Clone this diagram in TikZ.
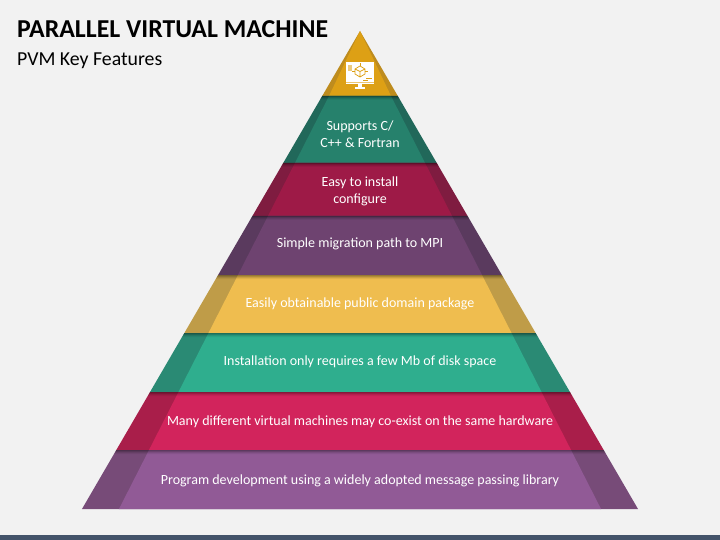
\documentclass[tikz,border=0pt]{standalone}
\usepackage{fontspec}
\setmainfont{Carlito}
\usetikzlibrary{calc}
\definecolor{pagebg}{HTML}{F2F2F2}
\definecolor{stripcol}{HTML}{44546A}
\definecolor{goldM}{HTML}{DDA015}
\definecolor{goldS}{HTML}{BE8C1E}
\definecolor{greenM}{HTML}{26816C}
\definecolor{greenS}{HTML}{21685A}
\definecolor{wineM}{HTML}{9E1A47}
\definecolor{wineS}{HTML}{7F1C40}
\definecolor{plumM}{HTML}{6E4370}
\definecolor{plumS}{HTML}{5A3A5E}
\definecolor{yellowM}{HTML}{EFBD4F}
\definecolor{yellowS}{HTML}{BF9C48}
\definecolor{tealM}{HTML}{2FAE8E}
\definecolor{tealS}{HTML}{2A8A74}
\definecolor{redM}{HTML}{D2245C}
\definecolor{redS}{HTML}{A91E4A}
\definecolor{violetM}{HTML}{915A96}
\definecolor{violetS}{HTML}{774B78}
\tikzset{
  band text/.style={text=white, font=\fontsize{14}{17}\selectfont, align=center},
}
\begin{document}
\begin{tikzpicture}[x=1pt, y=-1pt]
  \fill[pagebg] (0,0) rectangle (720,540);
  \fill[stripcol] (0,535) rectangle (720,540);

  \node [anchor=west, inner sep=0pt, font=\fontsize{25.8}{30}\selectfont\bfseries] (title) at (17,29) {PARALLEL VIRTUAL MACHINE};
  \node [anchor=west, inner sep=0pt, font=\fontsize{19.8}{23}\selectfont] (subtitle) at (17,60.5) {PVM Key Features};

  % bands, top to bottom: top edge, bottom edge, colour
  \foreach \t/\b/\c in {31/96/gold, 96/163/green, 163/216/wine, 216/275/plum,
                        275/333/yellow, 333/392/teal, 392/450/red, 450/509/violet} {
    \pgfmathsetmacro{\ot}{0.5816*(\t-31)}
    \pgfmathsetmacro{\ob}{0.5816*(\b-31)}
    \pgfmathsetmacro{\it}{0.5085*max(\t-35,0)}
    \pgfmathsetmacro{\ib}{0.5085*(\b-35)}
    \fill[\c S] (360-\ot,\t) -- (360+\ot,\t) -- (360+\ob,\b) -- (360-\ob,\b) -- cycle;
    \fill[\c M] (360-\it,\t) -- (360+\it,\t) -- (360+\ib,\b) -- (360-\ib,\b) -- cycle;
  }
  % shadow on top of each lower band
  \foreach \t in {96,163,216,275,333,392,450} {
    \foreach \k/\o in {0/0.36,1/0.22,2/0.12,3/0.05} {
      \pgfmathsetmacro{\ot}{0.5816*(\t+\k-31)}
      \pgfmathsetmacro{\ob}{0.5816*(\t+\k+1-31)}
      \fill[black, opacity=\o] (360-\ot,\t+\k) -- (360+\ot,\t+\k) -- (360+\ob,\t+\k+1) -- (360-\ob,\t+\k+1) -- cycle;
    }
  }

  \node [band text] (L1) at (360,134.5) {Supports C/\\C++ \& Fortran};
  \node [band text] (L2) at (360,191) {Easy to install\\configure};
  \node [band text] (L3) at (360,243.5) {Simple migration path to MPI};
  \node [band text] (L4) at (360,303.5) {Easily obtainable public domain package};
  \node [band text] (L5) at (360,362) {Installation only requires a few Mb of disk space};
  \node [band text] (L6) at (360,421.5) {Many different virtual machines may co-exist on the same hardware};
  \node [band text] (L7) at (360,480.5) {Program development using a widely adopted message passing library};

  % monitor icon
  \fill[white] (346,62) rectangle (374,84);
  \fill[white] (358,84) rectangle (362,87);
  \fill[white] (355,87) rectangle (365,89.5);
  \draw[goldM!60, line width=0.5pt] (346,82) -- (374,82);
  \fill[goldM!55] (348,65) rectangle (352,71);
  \draw[goldM, line width=0.7pt] (360,66) -- (365,69) -- (365,74) -- (360,77) -- (355,74) -- (355,69) -- cycle
    (355,69) -- (360,71.5) -- (365,69) (360,71.5) -- (360,77);
  \draw[goldM, line width=0.6pt] (352,71.5) -- (355,71.5) (365,71.5) -- (368,71.5) (360,63.5) -- (360,66);
  \draw[goldM, line width=0.6pt] (366,78.5) -- (372,78.5) (363,80) -- (368,80);
\end{tikzpicture}
\end{document}
